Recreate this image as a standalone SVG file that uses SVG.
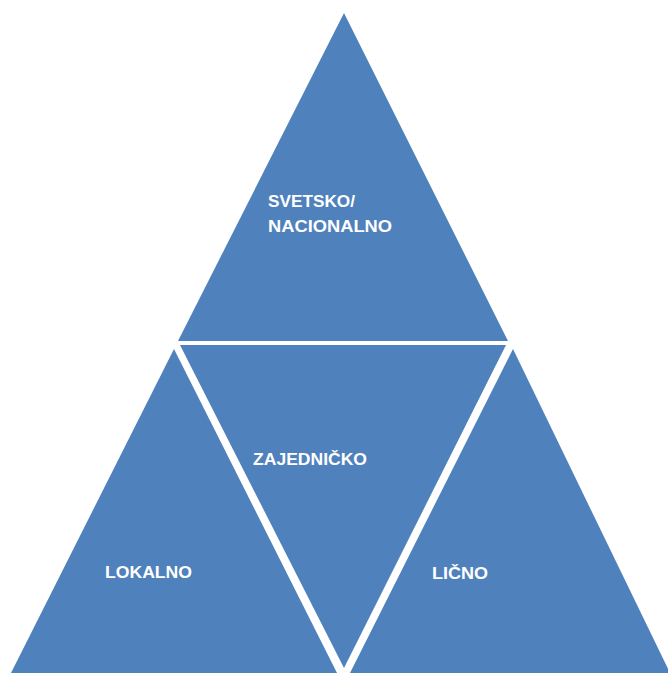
<svg xmlns="http://www.w3.org/2000/svg" width="668" height="673" viewBox="0 0 668 673">
<style>
.tri{fill:#4F81BD;}
.lbl{font-family:"Liberation Sans","Open Sans",Arial,sans-serif;font-weight:bold;font-size:17px;fill:#FFFFFF;}
</style>
<rect width="668" height="673" fill="#FFFFFF"/>
<g id="svetsko">
<polygon class="tri" points="344,13 178,341 508,341"/>
<text class="lbl" x="268" y="207" textLength="87" lengthAdjust="spacingAndGlyphs">SVETSKO/</text>
<text class="lbl" x="268" y="232" textLength="124" lengthAdjust="spacingAndGlyphs">NACIONALNO</text>
</g>
<g id="zajednicko">
<polygon class="tri" points="180,345 506,345 344,668"/>
<text class="lbl" x="253" y="465" textLength="114" lengthAdjust="spacingAndGlyphs">ZAJEDNIČKO</text>
</g>
<g id="lokalno">
<polygon class="tri" points="174,349 11,673 337,673"/>
<text class="lbl" x="105" y="578" textLength="87" lengthAdjust="spacingAndGlyphs">LOKALNO</text>
</g>
<g id="licno">
<polygon class="tri" points="513,349 350,673 670,673"/>
<text class="lbl" x="432" y="579" textLength="56" lengthAdjust="spacingAndGlyphs">LIČNO</text>
</g>
<g id="connectors"/>
</svg>
